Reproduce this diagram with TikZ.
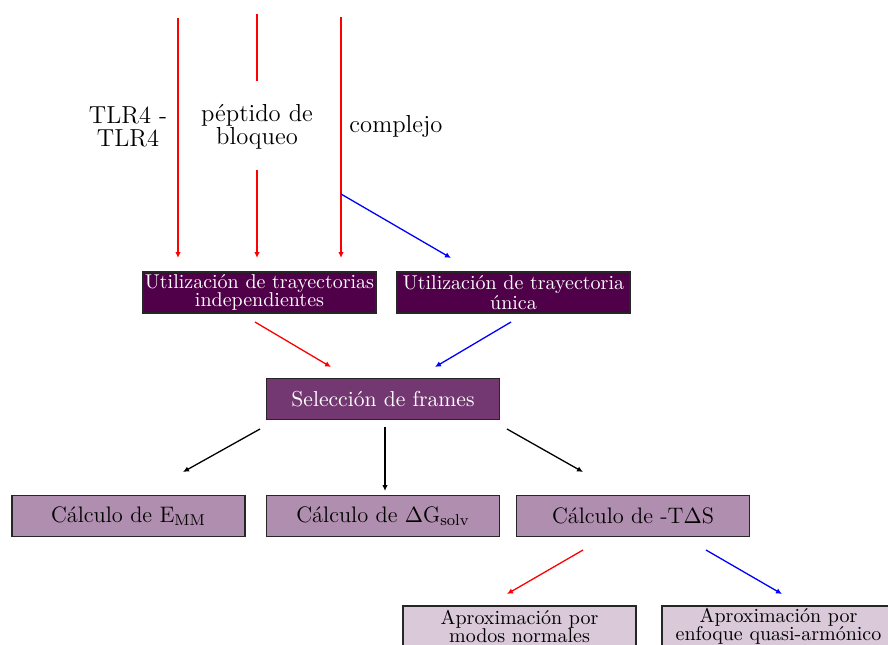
\documentclass[tikz,border=0pt]{standalone}
\usetikzlibrary{arrows.meta}
\definecolor{cdark}{HTML}{4F0049}
\definecolor{cmid}{HTML}{733872}
\definecolor{clight}{HTML}{B08EAF}
\definecolor{cpale}{HTML}{D9C9D9}
\tikzset{
  box/.style={draw=black!85, line width=0.6pt, minimum width=116.5pt, minimum height=20.5pt, inner sep=1pt, align=center},
  darkbox/.style={box, fill=cdark, text=white, font=\fontsize{10}{9}\selectfont},
  midbox/.style={box, fill=cmid, text=white, font=\fontsize{10.8}{10}\selectfont},
  calcbox/.style={box, fill=clight, font=\fontsize{11.2}{10}\selectfont},
  aprbox/.style={box, fill=cpale, font=\fontsize{10}{9}\selectfont},
  lab/.style={align=center, inner sep=0pt, font=\fontsize{12.3}{11.5}\selectfont},
  arr/.style={line width=0.65pt, -{Latex[length=3pt,width=2.8pt]}},
  ln/.style={line width=0.65pt}
}
\begin{document}
\begin{tikzpicture}[x=0.5pt,y=-0.5pt]
\useasboundingbox (0,0) rectangle (888,644);
% labels
\node[lab] (tlr) at (128,127) {TLR4 -\\TLR4};
\node[lab] (pep) at (257,127) {péptido de\\bloqueo};
\node[lab] (comp) at (396,126) {complejo};
% boxes
\node[darkbox] (u1) at (259.5,292.5) {Utilización de trayectorias\\independientes};
\node[darkbox] (u2) at (513.5,292.5) {Utilización de trayectoria\\única};
\node[midbox] (sel) at (383,399) {Selección de frames};
\node[calcbox] (emm) at (128.5,516) {Cálculo de E\textsubscript{MM}};
\node[calcbox] (dg) at (383,516) {Cálculo de $\Delta$G\textsubscript{solv}};
\node[calcbox] (ts) at (633,516) {Cálculo de -T$\Delta$S};
\node[aprbox] (an) at (519.5,626.5) {Aproximación por\\modos normales};
\node[aprbox] (aq) at (778.5,626.5) {Aproximación por\\enfoque quasi-armónico};
% coordinates
\coordinate (a1s) at (178,18);  \coordinate (a1e) at (178,258);
\coordinate (a2s) at (257,14);  \coordinate (a2m) at (257,81);
\coordinate (a2n) at (257,170); \coordinate (a2e) at (257,258);
\coordinate (a3s) at (341,17);  \coordinate (a3e) at (341,258);
\coordinate (b1s) at (341,194); \coordinate (b1e) at (451,258);
\coordinate (c1s) at (255,322); \coordinate (c1e) at (331,367);
\coordinate (c2s) at (511,322); \coordinate (c2e) at (435,367);
\coordinate (d1s) at (260,429); \coordinate (d1e) at (183,472);
\coordinate (d2s) at (385,427); \coordinate (d2e) at (385,491);
\coordinate (d3s) at (507,429); \coordinate (d3e) at (583,472);
\coordinate (e1s) at (583,550); \coordinate (e1e) at (507,594);
\coordinate (e2s) at (706,550); \coordinate (e2e) at (782,594);
% connectors
\draw[arr, red] (a1s) -- (a1e);
\draw[ln, red] (a2s) -- (a2m);
\draw[arr, red] (a2n) -- (a2e);
\draw[arr, red] (a3s) -- (a3e);
\draw[arr, blue] (b1s) -- (b1e);
\draw[arr, red] (c1s) -- (c1e);
\draw[arr, blue] (c2s) -- (c2e);
\draw[arr] (d1s) -- (d1e);
\draw[arr] (d2s) -- (d2e);
\draw[arr] (d3s) -- (d3e);
\draw[arr, red] (e1s) -- (e1e);
\draw[arr, blue] (e2s) -- (e2e);
\end{tikzpicture}
\end{document}
